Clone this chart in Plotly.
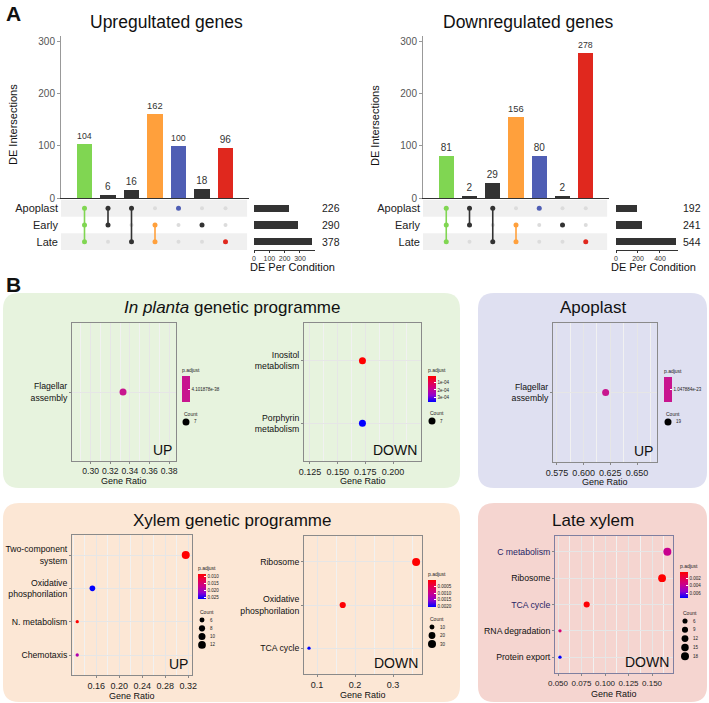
import plotly.graph_objects as go

W, H = 709, 703
FONT = "Liberation Sans, Arial, Helvetica, sans-serif"

# ---------------- DATA ----------------
set_names = ["Apoplast", "Early", "Late"]
intersection_sets = [["Apoplast", "Early", "Late"], ["Apoplast", "Early"], ["Apoplast", "Late"],
                     ["Early", "Late"], ["Apoplast"], ["Early"], ["Late"]]
up_intersections = [104, 6, 16, 162, 100, 18, 96]
down_intersections = [81, 2, 29, 156, 80, 2, 278]
up_set_sizes = [226, 290, 378]
down_set_sizes = [192, 241, 544]
bar_ticks = [0, 100, 200, 300]
up_size_ticks = [0, 100, 200, 300]
down_size_ticks = [0, 200, 400]

# In planta UP
ip_up_terms = ["Flagellar<br>assembly"]
ip_up_ratio = [0.333]
ip_up_count = [7]
ip_up_padj = [4.101878e-38]
ip_up_xticks = [0.30, 0.32, 0.34, 0.36, 0.38]
ip_up_pticks = [4.101878e-38]
ip_up_plabels = ["4.101878e-38"]
ip_up_cticks = [7]

# In planta DOWN
ip_down_terms = ["Inositol<br>metabolism", "Porphyrin<br>metabolism"]
ip_down_ratio = [0.1724, 0.1724]
ip_down_count = [7, 7]
ip_down_padj = [2e-06, 3.7e-04]
ip_down_xticks = [0.125, 0.150, 0.175, 0.200]
ip_down_pticks = [1e-04, 2e-04, 3e-04]
ip_down_plabels = ["1e-04", "2e-04", "3e-04"]
ip_down_cticks = [7]

# Apoplast UP
ap_up_terms = ["Flagellar<br>assembly"]
ap_up_ratio = [0.6206]
ap_up_count = [19]
ap_up_padj = [1.047884e-23]
ap_up_xticks = [0.575, 0.600, 0.625, 0.650]
ap_up_pticks = [1.047884e-23]
ap_up_plabels = ["1.047884e-23"]
ap_up_cticks = [19]

# Xylem UP
xy_up_terms = ["Two-component<br>system", "Oxidative<br>phosphorilation", "N. metabolism", "Chemotaxis"]
xy_up_ratio = [0.3155, 0.1531, 0.1267, 0.1267]
xy_up_count = [13, 7, 5, 5]
xy_up_padj = [0.008, 0.026, 0.008, 0.019]
xy_up_xticks = [0.16, 0.20, 0.24, 0.28, 0.32]
xy_up_pticks = [0.010, 0.015, 0.020, 0.025]
xy_up_plabels = ["0.010", "0.015", "0.020", "0.025"]
xy_up_cticks = [6, 8, 10, 12]

# Xylem DOWN
xy_down_terms = ["Ribosome", "Oxidative<br>phosphorilation", "TCA cycle"]
xy_down_ratio = [0.3605, 0.1676, 0.079]
xy_down_count = [30, 16, 7]
xy_down_padj = [2e-05, 5e-05, 0.00205]
xy_down_xticks = [0.1, 0.2, 0.3]
xy_down_pticks = [0.0005, 0.0010, 0.0015, 0.0020]
xy_down_plabels = ["0.0005", "0.0010", "0.0015", "0.0020"]
xy_down_cticks = [10, 20, 30]

# Late xylem DOWN
lx_down_terms = ["C metabolism", "Ribosome", "TCA cycle", "RNA degradation", "Protein export"]
lx_down_ratio = [0.1663, 0.1607, 0.0805, 0.0521, 0.0521]
lx_down_count = [18, 17, 9, 4, 4]
lx_down_padj = [0.0038, 0.0003, 0.0004, 0.0030, 0.0073]
lx_down_xticks = [0.050, 0.075, 0.100, 0.125, 0.150]
lx_down_pticks = [0.002, 0.004, 0.006]
lx_down_plabels = ["0.002", "0.004", "0.006"]
lx_down_cticks = [6, 9, 12, 15, 18]

# ---------------- STYLE ----------------
GREEN, DARK, ORANGE, BLUE, RED = "#80D652", "#333333", "#FFA03C", "#4F5EB4", "#E0281E"
inter_colors = [GREEN, DARK, DARK, ORANGE, BLUE, DARK, RED]
row_of = {"Apoplast": 2, "Early": 1, "Late": 0}
PSCALE = [[0, "#0000FF"], [0.25, "#8F00D0"], [0.5, "#C8008F"], [0.75, "#E5004F"], [1, "#FF0000"]]
MAGENTA = "#C8158F"


def fx(px):
    return px / W


def fy(py):
    return 1 - py / H


def xdom(a, b):
    return [a / W, b / W]


def ydom(top, bot):
    return [1 - bot / H, 1 - top / H]


def an(i):
    return "" if i == 1 else str(i)


fig = go.Figure()
shapes = []
annotations = []


def text(x, y, s, size, **kw):
    d = dict(x=fx(x), y=fy(y), xref="paper", yref="paper", text=s, showarrow=False,
             xanchor="center", yanchor="middle",
             font=dict(size=size, color=kw.pop("color", "#111"), family=FONT))
    d.update(kw)
    annotations.append(d)


# ---------------- background boxes ----------------
def rounded(x0, y0, x1, y1, r, color):
    rx, ry = r / W, r / H
    X0, X1 = fx(x0), fx(x1)
    Y0, Y1 = fy(y1), fy(y0)
    path = (f"M {X0+rx},{Y0} L {X1-rx},{Y0} Q {X1},{Y0} {X1},{Y0+ry} L {X1},{Y1-ry} "
            f"Q {X1},{Y1} {X1-rx},{Y1} L {X0+rx},{Y1} Q {X0},{Y1} {X0},{Y1-ry} "
            f"L {X0},{Y0+ry} Q {X0},{Y0} {X0+rx},{Y0} Z")
    shapes.append(dict(type="path", path=path, xref="paper", yref="paper", fillcolor=color,
                       line=dict(width=0), layer="below"))


rounded(3, 293, 460, 488, 16, "#E7F3DE")
rounded(478, 293, 707, 488, 16, "#DFE0F1")
rounded(3, 503, 460, 702, 16, "#FCE7D5")
rounded(478, 503, 707, 702, 16, "#F5D5D0")


# ---------------- UpSet plots ----------------
def add_upset(k, inter, sizes, cfg):
    kb, km, ks = k, k + 1, k + 2
    fig.add_trace(go.Bar(x=list(range(len(inter))), y=inter, marker=dict(color=inter_colors, line_width=0),
                         width=0.65, text=inter, textposition="outside", cliponaxis=False,
                         textfont=dict(size=10, color="#333", family=FONT),
                         xaxis="x" + an(kb), yaxis="y" + an(kb), hoverinfo="skip"))
    # inactive dots
    ix, iy = [], []
    for j, mem in enumerate(intersection_sets):
        for s in set_names:
            if s not in mem:
                ix.append(j)
                iy.append(row_of[s])
    fig.add_trace(go.Scatter(x=ix, y=iy, mode="markers", marker=dict(size=4, color="#DCDCDC"),
                             xaxis="x" + an(km), yaxis="y" + an(km), hoverinfo="skip"))
    for j, mem in enumerate(intersection_sets):
        ys = sorted(row_of[s] for s in mem)
        fig.add_trace(go.Scatter(x=[j] * len(ys), y=ys, mode="lines+markers",
                                 line=dict(color=inter_colors[j], width=1.6),
                                 marker=dict(size=5, color=inter_colors[j]),
                                 xaxis="x" + an(km), yaxis="y" + an(km), hoverinfo="skip"))
    fig.add_trace(go.Bar(x=sizes, y=[row_of[s] for s in set_names], orientation="h", width=0.45,
                         marker=dict(color="#333", line_width=0),
                         xaxis="x" + an(ks), yaxis="y" + an(ks), hoverinfo="skip"))
    x0, x1 = cfg["bars_x"]
    lay = {}
    lay["xaxis" + an(kb)] = dict(domain=xdom(x0, x1), range=[-1, 7], showticklabels=False, ticks="",
                                 showgrid=False, zeroline=False, showline=True, linecolor="#333",
                                 linewidth=1, anchor="y" + an(kb))
    lay["yaxis" + an(kb)] = dict(domain=ydom(36, 198), range=[0, 311], tickvals=bar_ticks,
                                 tickfont=dict(size=10, color="#555", family=FONT), ticks="outside",
                                 ticklen=3, tickcolor="#999", showgrid=False, zeroline=False,
                                 showline=True, linecolor="#999", linewidth=1, anchor="x" + an(kb))
    lay["xaxis" + an(km)] = dict(domain=xdom(x0, x1), range=[-1, 7], visible=False, anchor="y" + an(km))
    lay["yaxis" + an(km)] = dict(domain=ydom(200, 250), range=[-0.5, 2.5],
                                 tickvals=[row_of[s] for s in set_names], ticktext=set_names,
                                 tickfont=dict(size=11, color="#222", family=FONT), ticks="",
                                 showgrid=False, zeroline=False, showline=False, anchor="x" + an(km),
                                 ticklabelstandoff=2)
    s0, s1 = cfg["sizes_x"]
    lay["xaxis" + an(ks)] = dict(domain=xdom(s0, s1), range=[0, cfg["size_max"]], tickvals=cfg["size_ticks"],
                                 tickfont=dict(size=7, color="#333", family=FONT), ticks="outside",
                                 ticklen=2, tickcolor="#333", showline=True, linecolor="#333",
                                 showgrid=False, zeroline=False, anchor="y" + an(ks), tickangle=0)
    lay["yaxis" + an(ks)] = dict(domain=ydom(200, 250), range=[-0.5, 2.5], visible=False,
                                 anchor="x" + an(ks))
    fig.update_layout(**lay)
    for yb0, yb1 in [(1.5, 2.5), (-0.5, 0.5)]:
        shapes.append(dict(type="rect", xref="x" + an(km) + " domain", yref="y" + an(km), x0=0, x1=0.99,
                           y0=yb0, y1=yb1, fillcolor="#F0F0F0", line=dict(width=0), layer="below"))
    for s, v in zip(set_names, sizes):
        annotations.append(dict(x=fx(cfg["size_label_x"]), y=row_of[s], xref="paper", yref="y" + an(ks),
                                text=str(v), showarrow=False, xanchor="center", yanchor="middle",
                                font=dict(size=10.5, color="#222", family=FONT)))
    text(cfg["title_x"], 22, cfg["title"], 17.5)
    text(cfg["ytitle_x"], 125, "DE Intersections", 11, textangle=-90)
    text(cfg["dpc_x"], 267, "DE Per Condition", 11)


add_upset(1, up_intersections, up_set_sizes,
          dict(bars_x=(61, 249), sizes_x=(254, 315), size_max=398, size_ticks=up_size_ticks,
               size_label_x=331, title="Upregultated genes", title_x=166, ytitle_x=13, dpc_x=292))
add_upset(4, down_intersections, down_set_sizes,
          dict(bars_x=(423, 609), sizes_x=(616, 678), size_max=564, size_ticks=down_size_ticks,
               size_label_x=692, title="Downregulated genes", title_x=528, ytitle_x=375, dpc_x=653))


# ---------------- dot plots ----------------
def dot_size(c, cmin, cmax):
    if cmax == cmin:
        return 7.0
    f = min(max((c - cmin) / (cmax - cmin), 0), 1)
    return 3.3 + 4.7 * f ** 0.5


def add_dot(idx, terms, ratio, count, padj, xticks, xfmt, pticks, plabels, cticks, cfg):
    ca = idx - 6
    caname = "coloraxis" + an(ca)
    n = len(terms)
    ypos = list(range(n, 0, -1))
    cmin, cmax = min(count), max(count)
    sizes = [dot_size(c, cmin, cmax) for c in count]
    fig.add_trace(go.Scatter(x=ratio, y=ypos, mode="markers",
                             marker=dict(size=sizes, color=[-p for p in padj], coloraxis=caname,
                                         line=dict(width=0), opacity=1),
                             xaxis="x" + str(idx), yaxis="y" + str(idx), hoverinfo="skip"))
    x0, x1 = cfg["x"]
    t0, t1 = cfg["y"]
    lc = cfg.get("linecolor", "#8A8A8A")
    step = xticks[1] - xticks[0]
    fig.update_layout(**{
        "xaxis" + str(idx): dict(domain=xdom(x0, x1), range=cfg["xrange"], tickvals=xticks,
                                 ticktext=[format(v, xfmt) for v in xticks], tickangle=0,
                                 tickfont=dict(size=cfg.get("xfs", 9), color="#222", family=FONT),
                                 ticks="outside",
                                 ticklen=2, tickcolor="#888", showgrid=True, gridcolor="#E6E6E6",
                                 gridwidth=0.8, zeroline=False, showline=True, mirror=True,
                                 linecolor=lc, linewidth=1, anchor="y" + str(idx),
                                 minor=dict(tickmode="linear", tick0=xticks[0] - step / 2, dtick=step / 2,
                                            showgrid=True, gridcolor="#F1F1F1", gridwidth=0.6,
                                            ticks="")),
        "yaxis" + str(idx): dict(domain=ydom(t0, t1), range=[0.4, n + 0.6], tickvals=ypos,
                                 ticktext=cfg.get("ticktext", terms),
                                 tickfont=dict(size=8.7, color="#111", family=FONT), ticks="outside",
                                 ticklen=2, tickcolor="#888", showgrid=True, gridcolor="#E6E6E6",
                                 gridwidth=0.8, zeroline=False, showline=True, mirror=True,
                                 linecolor=lc, linewidth=1, anchor="x" + str(idx)),
    })
    pmin, pmax = min(padj), max(padj)
    if pmin == pmax:
        cscale = [[0, MAGENTA], [1, MAGENTA]]
        lo, hi = -2 * pmax, 0
    else:
        cscale = PSCALE
        lo, hi = -pmax, -pmin
    cbx, cby0, cby1 = cfg["cbar"]
    fig.update_layout(**{caname: dict(
        colorscale=cscale, cmin=lo, cmax=hi,
        colorbar=dict(x=fx(cbx), xanchor="left", y=fy((cby0 + cby1) / 2), yanchor="middle",
                      len=cby1 - cby0, lenmode="pixels", thickness=8, thicknessmode="pixels",
                      outlinewidth=0, xpad=0, ypad=0, tickvals=[-v for v in pticks], ticktext=plabels,
                      ticks="inside", ticklen=2, tickcolor="white",
                      tickfont=dict(size=4.5, color="#222", family=FONT),
                      title=dict(text="p.adjust", side="top", font=dict(size=5, color="#222", family=FONT))))})
    # count legend
    lx, ly, ldy = cfg["count"]
    text(lx, ly, "Count", 5, xanchor="left", color="#222")
    yy = ly + 8
    for c in cticks:
        d = dot_size(c, cmin, cmax)
        r = d / 2
        shapes.append(dict(type="circle", xref="paper", yref="paper", xsizemode="pixel",
                           ysizemode="pixel", xanchor=fx(lx + 4), yanchor=fy(yy), x0=-r, x1=r,
                           y0=-r, y1=r, fillcolor="black", line=dict(width=0)))
        text(lx + 10, yy, str(c), 4.5, xanchor="left", color="#222")
        yy += ldy
    # UP / DOWN label
    annotations.append(dict(x=0.985, y=0.01, xref="x" + str(idx) + " domain", yref="y" + str(idx) + " domain",
                            text=cfg["tag"], showarrow=False, xanchor="right", yanchor="bottom",
                            font=dict(size=14, color="#111", family=FONT)))
    text((x0 + x1) / 2, cfg["gr_y"], "Gene Ratio", 9)


add_dot(7, ip_up_terms, ip_up_ratio, ip_up_count, ip_up_padj, ip_up_xticks, ".2f",
        ip_up_pticks, ip_up_plabels, ip_up_cticks,
        dict(x=(72, 176), y=(323, 461), xrange=[0.281, 0.387], cbar=(182, 365, 402),
             count=(182, 414, 8), tag="UP", gr_y=481, xfs=8.6))
add_dot(8, ip_down_terms, ip_down_ratio, ip_down_count, ip_down_padj, ip_down_xticks, ".3f",
        ip_down_pticks, ip_down_plabels, ip_down_cticks,
        dict(x=(304, 421), y=(323, 461), xrange=[0.1196, 0.2253], cbar=(428, 365, 402),
             count=(428, 413, 8), tag="DOWN", gr_y=481))
add_dot(9, ap_up_terms, ap_up_ratio, ap_up_count, ap_up_padj, ap_up_xticks, ".3f",
        ap_up_pticks, ap_up_plabels, ap_up_cticks,
        dict(x=(553, 657), y=(323, 462), xrange=[0.5713, 0.6687], cbar=(664, 366, 402),
             count=(664, 414, 8), tag="UP", gr_y=482))
add_dot(10, xy_up_terms, xy_up_ratio, xy_up_count, xy_up_padj, xy_up_xticks, ".2f",
        xy_up_pticks, xy_up_plabels, xy_up_cticks,
        dict(x=(72, 192), y=(535, 675), xrange=[0.1176, 0.3264], cbar=(198, 563, 599),
             count=(198, 612, 8.3), tag="UP", gr_y=696))
add_dot(11, xy_down_terms, xy_down_ratio, xy_down_count, xy_down_padj, xy_down_xticks, ".1f",
        xy_down_pticks, xy_down_plabels, xy_down_cticks,
        dict(x=(304, 422), y=(536, 674), xrange=[0.0658, 0.376], cbar=(428, 569, 607),
             count=(428, 619, 8.5), tag="DOWN", gr_y=695))
lx_ticktext = [("<span style='color:#1F1F66'>%s</span>" % t) if t in ("C metabolism", "TCA cycle") else t
               for t in lx_down_terms]
add_dot(12, lx_down_terms, lx_down_ratio, lx_down_count, lx_down_padj, lx_down_xticks, ".3f",
        lx_down_pticks, lx_down_plabels, lx_down_cticks,
        dict(x=(555, 673), y=(536, 673), xrange=[0.0468, 0.1723], cbar=(680, 561, 598),
             count=(681, 613, 8.8), tag="DOWN", gr_y=694, linecolor="#7F7FA0", ticktext=lx_ticktext,
             xfs=8))

# ---------------- titles ----------------
text(4, 13, "<b>A</b>", 21, xanchor="left")
text(4, 284, "<b>B</b>", 21, xanchor="left")
text(232, 307, "<i>In planta</i> genetic programme", 17)
text(593, 307, "Apoplast", 17)
text(232, 520, "Xylem genetic programme", 17)
text(593, 520, "Late xylem", 17)

fig.update_layout(width=W, height=H, margin=dict(l=0, r=0, t=0, b=0, autoexpand=False),
                  paper_bgcolor="white", plot_bgcolor="white", showlegend=False, shapes=shapes,
                  annotations=annotations, font=dict(family=FONT), bargap=0)
fig.write_html("out.html", config={"displayModeBar": False},
               post_script="document.body.style.margin='0';document.body.style.overflow='hidden';")
